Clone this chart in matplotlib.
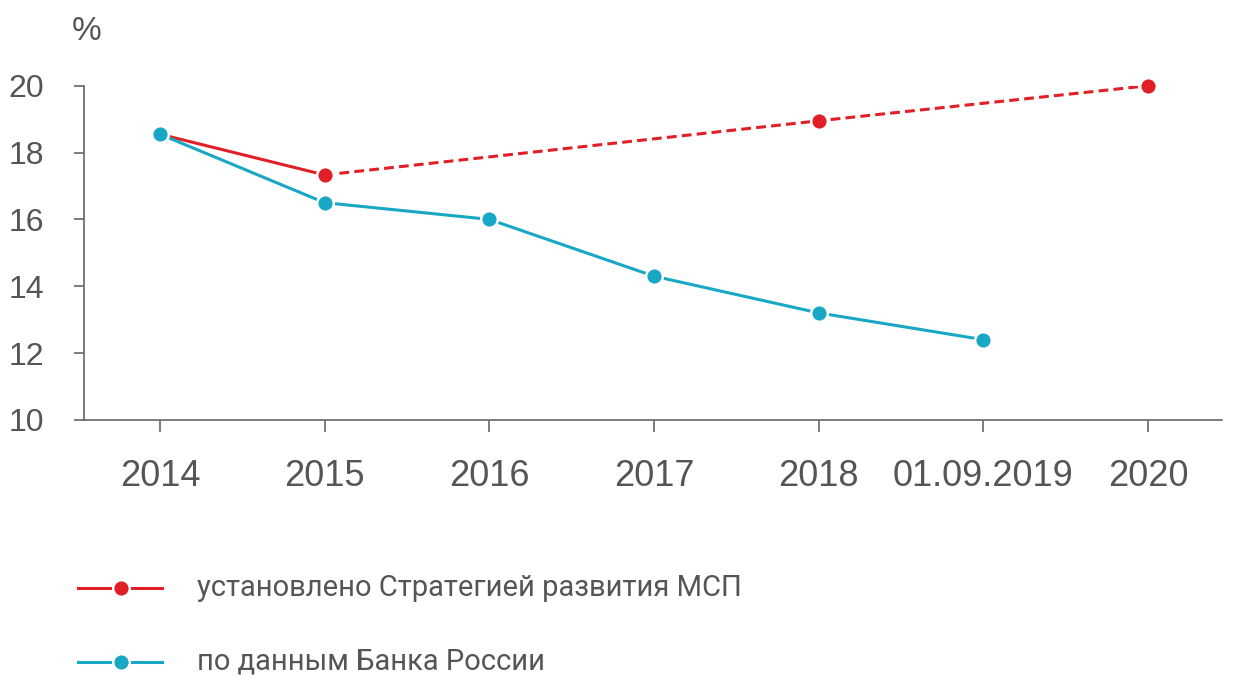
import numpy as np
import matplotlib.pyplot as plt
from matplotlib.lines import Line2D

years = ["2014", "2015", "2016", "2017", "2018", "01.09.2019", "2020"]

# установлено Стратегией (2014-2015 факт, далее план)
strategy_x = [0, 1, 4, 6]
strategy_y = [18.55, 17.33, 18.95, 20.0]

# по данным Банка России
bank_x = [0, 1, 2, 3, 4, 5]
bank_y = [18.55, 16.5, 16.0, 14.3, 13.2, 12.4]

labels = ["установлено Стратегией развития МСП", "по данным Банка России"]

RED = "#e11f26"
BLUE = "#18a7c4"
GRAY = "#666666"
TEXT = "#555555"


def main():
    fig = plt.figure(figsize=(12.37, 6.75), dpi=100)
    ax = fig.add_axes([0.068, 0.378, 0.920, 0.495])

    mk = dict(marker="o", markersize=12, markeredgecolor="white", markeredgewidth=1.8)

    ax.plot(bank_x, bank_y, color=BLUE, lw=2.2, markerfacecolor=BLUE, clip_on=False, zorder=3, **mk)

    # сплошной участок 2014-2015, потом пунктир
    ax.plot(strategy_x[:2], strategy_y[:2], color=RED, lw=2.2, zorder=2, solid_capstyle="butt")
    ax.plot(strategy_x[1:], strategy_y[1:], color=RED, lw=2.2, dashes=(3.2, 1.7), zorder=2)
    ax.plot(strategy_x[1:], strategy_y[1:], ls="none", markerfacecolor=RED, clip_on=False, zorder=4, **mk)

    ax.set_xlim(-0.46, 6.45)
    ax.set_ylim(10, 20)
    ax.set_yticks(np.arange(10, 21, 2))
    ax.set_xticks(range(len(years)))
    ax.set_xticklabels(years)

    for s in ["top", "right"]:
        ax.spines[s].set_visible(False)
    for s in ["left", "bottom"]:
        ax.spines[s].set_color(GRAY)
        ax.spines[s].set_linewidth(1.2)

    ax.tick_params(axis="x", colors=GRAY, length=8.5, width=1.2, labelsize=26, pad=20, labelcolor=TEXT)
    ax.tick_params(axis="y", colors=GRAY, length=7, width=1.2, labelsize=23, pad=22, labelcolor=TEXT)
    for lab in ax.get_xticklabels() + ax.get_yticklabels():
        lab.set_family("Liberation Sans")

    fig.text(72 / 1237, 1 - 32 / 675, "%", fontsize=24, color=TEXT, family="Liberation Sans", va="center")

    # легенда внизу, рисуем вручную
    W, H = 1237, 675
    for i, (lab, col) in enumerate(zip(labels, [RED, BLUE])):
        y = 1 - (588 + 74 * i) / H
        fig.add_artist(Line2D([78 / W, 162 / W], [y, y], color=col, lw=2.2, transform=fig.transFigure))
        fig.add_artist(Line2D([121 / W], [y], color=col, marker="o", markersize=12, markerfacecolor=col,
                              markeredgecolor="white", markeredgewidth=1.8, transform=fig.transFigure))
        fig.text(197 / W, y, lab, fontsize=21, color=TEXT, family="Roboto", va="center")

    fig.savefig("out.png", dpi=100)


if __name__ == "__main__":
    main()
